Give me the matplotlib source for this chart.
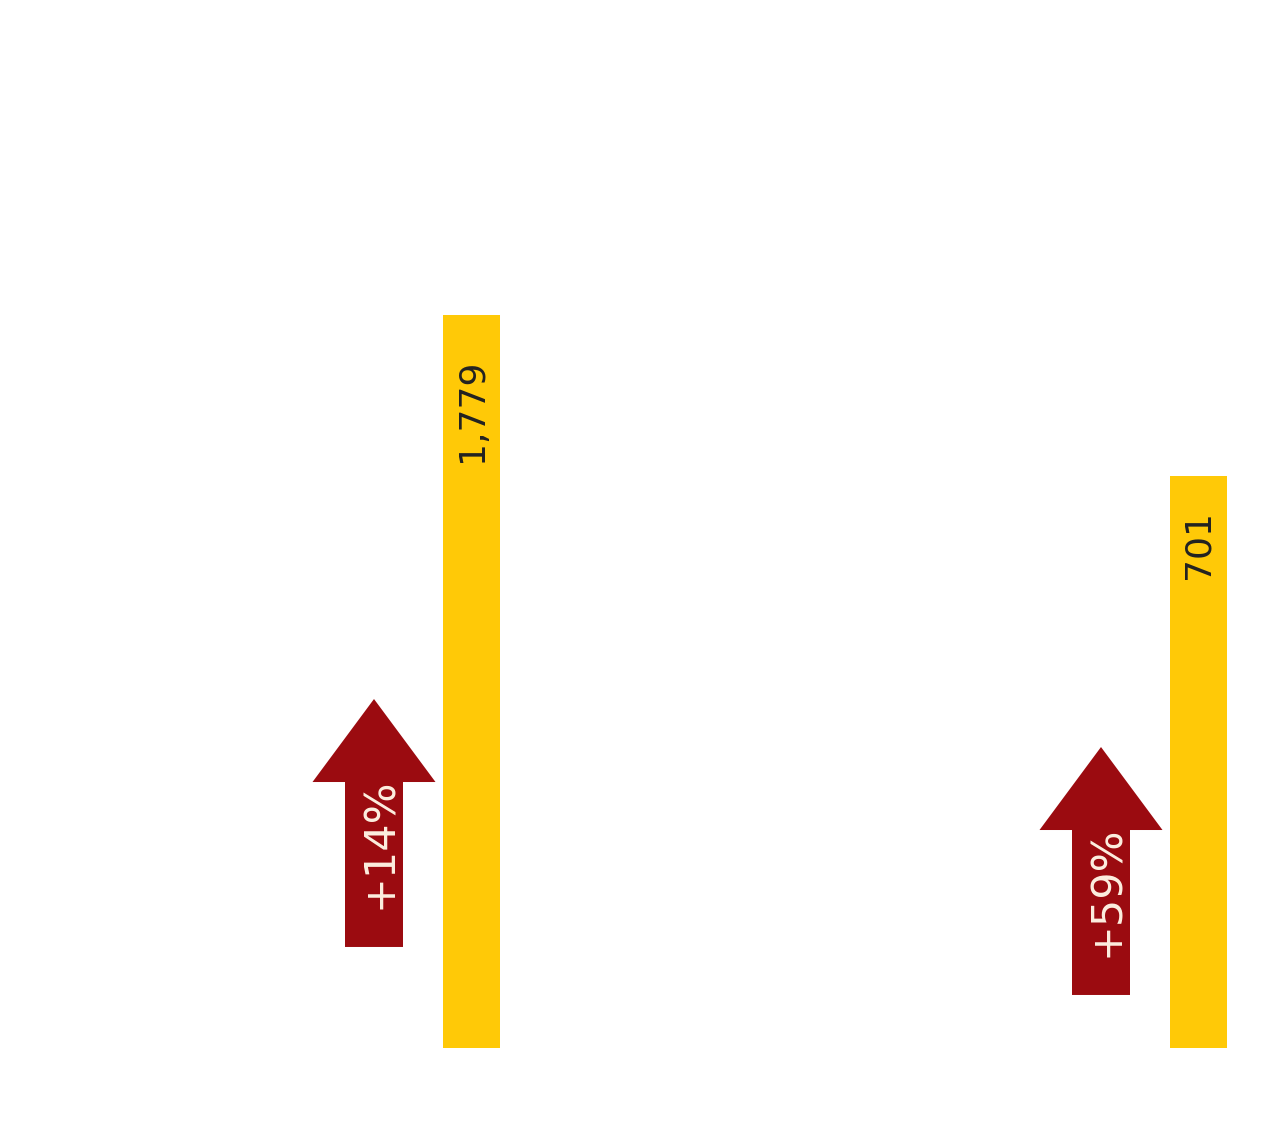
import numpy as np
import matplotlib.pyplot as plt
import matplotlib.transforms as mtransforms
from matplotlib.patches import Polygon

values = [1779, 701]
value_labels = ['1,779', '701']
changes = ['+14%', '+59%']
arrow_base = [0.0964, 0.0506]   # arrow foot, in axes fraction

bar_color = '#FFC907'
arrow_color = '#9B0B10'

fig = plt.figure(figsize=(12.8, 11.36), dpi=100)
ax1 = fig.add_axes([0, 88 / 1136, 1, 1048 / 1136])
ax2 = ax1.twinx()

# each bar gets its own scale
ylims = [values[0] * 1048 / 733, values[1] * 1048 / 572]
xs = np.arange(len(values))
bar_w = 57 / 727
shaft_w = 58 / 727
head_w = 123 / 727
arrow_len = 0.2366
head_len = 0.0792
arrow_dx = -97.5 / 727

for ax, x, v, lab, chg, base, ylim in zip([ax1, ax2], xs, values, value_labels,
                                          changes, arrow_base, ylims):
    ax.set_xlim(-471.5 / 727, (1280 - 471.5) / 727)
    ax.set_ylim(0, ylim)
    ax.axis('off')
    ax.bar(x, v, width=bar_w, color=bar_color)
    ax.text(x, v * 0.94, lab, rotation=90, ha='center', va='top',
            fontsize=26, color='#222222')

    # up arrow beside the bar
    tr = mtransforms.blended_transform_factory(ax.transData, ax.transAxes)
    cx = x + arrow_dx
    top = base + arrow_len
    neck = top - head_len
    pts = [(cx - shaft_w / 2, base), (cx + shaft_w / 2, base),
           (cx + shaft_w / 2, neck), (cx + head_w / 2, neck),
           (cx, top), (cx - head_w / 2, neck), (cx - shaft_w / 2, neck)]
    ax.add_patch(Polygon(pts, closed=True, transform=tr, color=arrow_color, lw=0))
    ax.text(cx + 6 / 727, neck + 0.004, chg, transform=tr, rotation=90,
            ha='center', va='top', fontsize=31, color='#FDEFE0')

fig.savefig('out.png', dpi=100)
